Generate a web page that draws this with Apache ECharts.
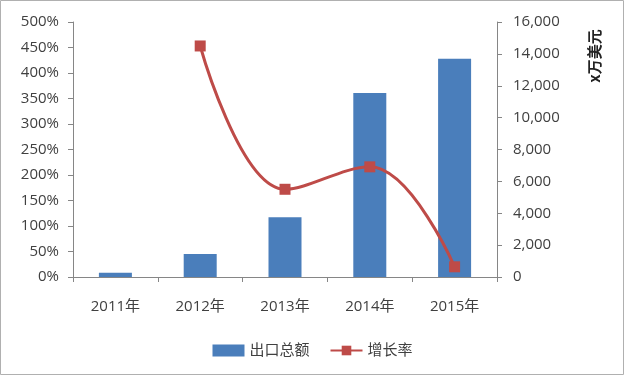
<!DOCTYPE html>
<html><head><meta charset="utf-8">
<script src="https://cdn.jsdelivr.net/npm/echarts@6/dist/echarts.min.js"></script>
<style>html,body{margin:0;padding:0;background:#fff}#c{width:625px;height:376px}</style>
</head><body><div id="c"></div>
<script>
var categories = ['2011年','2012年','2013年','2014年','2015年'];
var exportTotal = [260, 1450, 3750, 11550, 13700];
var growthRate = [null, 453, 172, 216, 20];
var leftTicks = [0, 500, 50];
var rightTicks = [0, 16000, 2000];
var unitLabel = 'x万美元';

var chart = echarts.init(document.getElementById('c'));
var txt = '#404040', axisCol = '#868686', ff = '"Open Sans","Noto Sans CJK SC",sans-serif';
chart.setOption({
  animation: false,
  grid: {left: 73, right: 128, top: 22, bottom: 99},
  legend: {
    bottom: 13, left: 'center', itemGap: 20, itemWidth: 32, itemHeight: 12,
    textStyle: {color: txt, fontSize: 15, fontFamily: ff},
    data: [{name: '出口总额', icon: 'rect'}, {name: '增长率'}]
  },
  xAxis: {
    type: 'category', data: categories,
    axisLine: {lineStyle: {color: axisCol}},
    axisTick: {show: true, length: 5, lineStyle: {color: axisCol}},
    axisLabel: {color: txt, fontSize: 15, margin: 22, fontFamily: ff}
  },
  yAxis: [{
    type: 'value', min: leftTicks[0], max: leftTicks[1], interval: leftTicks[2],
    axisLine: {show: true, lineStyle: {color: axisCol}},
    axisTick: {show: true, length: 5, lineStyle: {color: axisCol}},
    splitLine: {show: false},
    axisLabel: {color: txt, fontSize: 15, margin: 14, fontFamily: ff, formatter: '{value}%'}
  }, {
    type: 'value', min: rightTicks[0], max: rightTicks[1], interval: rightTicks[2], position: 'right',
    axisLine: {show: true, lineStyle: {color: axisCol}},
    axisTick: {show: true, length: 5, lineStyle: {color: axisCol}},
    splitLine: {show: false},
    axisLabel: {color: txt, fontSize: 15, margin: 16, fontFamily: ff,
      formatter: function(v){return v.toLocaleString('en-US');}}
  }],
  series: [{
    name: '出口总额', type: 'bar', yAxisIndex: 1, data: exportTotal,
    barWidth: 33, itemStyle: {color: '#4A7EBB'}
  }, {
    name: '增长率', type: 'line', yAxisIndex: 0, data: growthRate, smooth: 0.4,
    symbol: 'rect', symbolSize: 11,
    lineStyle: {color: '#BE4B48', width: 3},
    itemStyle: {color: '#BE4B48'}
  }],
  graphic: [{
    type: 'rect', shape: {x: 0.5, y: 0.5, width: 623, height: 374},
    style: {fill: 'none', stroke: '#B0B0B0', lineWidth: 1}, silent: true
  }, {
    type: 'text', x: 594, y: 56, rotation: Math.PI / 2,
    style: {text: unitLabel, fill: '#222', font: 'bold 15px "Noto Sans CJK SC", serif',
      align: 'center', verticalAlign: 'middle'}
  }]
});
</script></body></html>
